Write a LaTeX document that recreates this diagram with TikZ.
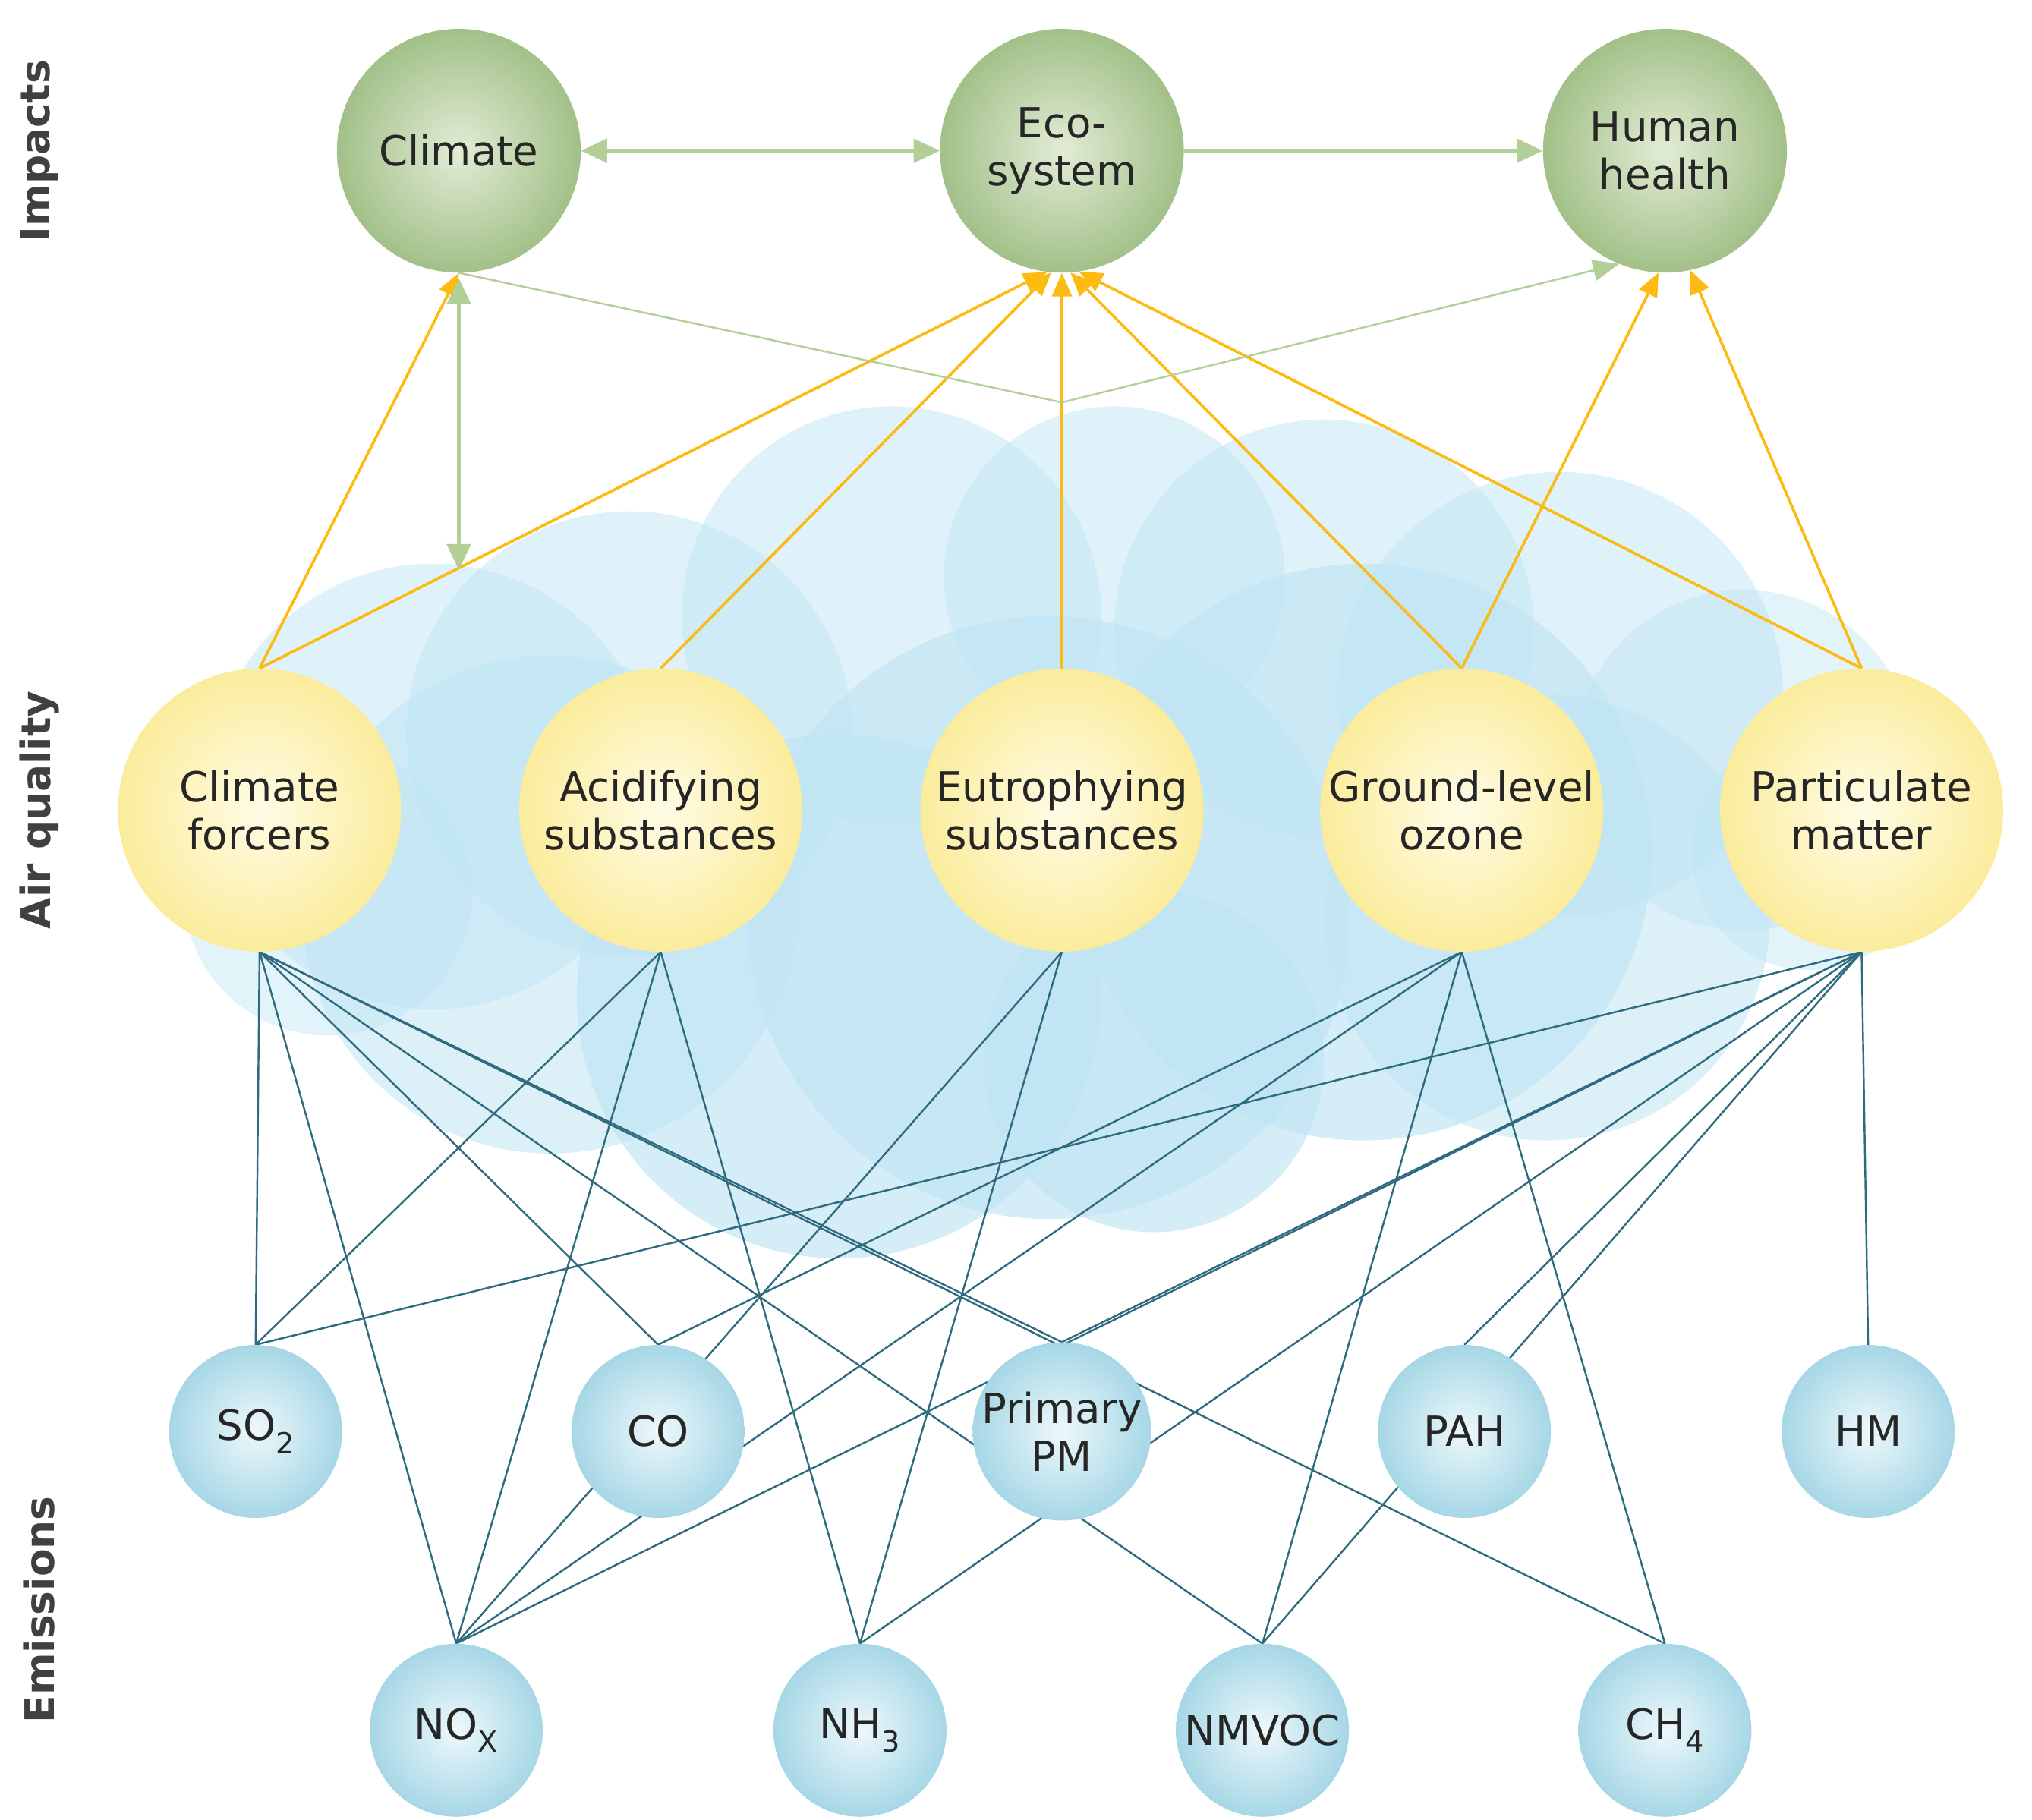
\documentclass[tikz,border=0pt]{standalone}
\usepackage{fontspec}
\setmainfont{DejaVu Sans}
\usetikzlibrary{arrows.meta}
\pgfdeclarelayer{cloud}\pgfdeclarelayer{bg}
\pgfsetlayers{cloud,bg,main}
\definecolor{teal}{HTML}{2F6B7E}
\definecolor{orng}{HTML}{FDBA12}
\definecolor{grn}{HTML}{B3CF98}
\definecolor{cld}{HTML}{BFE4F3}
\definecolor{lbl}{HTML}{404040}
\definecolor{impi}{HTML}{E2ECD6}
\definecolor{impo}{HTML}{A2C088}
\definecolor{aqi}{HTML}{FFFCE6}
\definecolor{aqo}{HTML}{FBEC9C}
\definecolor{emi}{HTML}{EEF8FB}
\definecolor{emo}{HTML}{A6D7E6}
\begin{document}
\begin{tikzpicture}[x=0.05cm,y=-0.05cm,
 txt/.style={font=\fontsize{45}{52}\selectfont,text=black!85,align=center},
 imp/.style={circle,txt,minimum size=9.3cm,inner sep=0pt,inner color=impi,outer color=impo},
 aq/.style={circle,txt,minimum size=10.8cm,inner sep=0pt,inner color=aqi,outer color=aqo},
 em/.style={circle,txt,minimum size=6.6cm,inner sep=0pt,inner color=emi,outer color=emo},
 tl/.style={draw=teal,line width=2pt},
 oa/.style={draw=orng,line width=3pt,-{Triangle[length=0.9cm,width=0.75cm]}},
 ga/.style={draw=grn,line width=4.5pt,{Triangle[length=1cm,width=0.9cm]}-{Triangle[length=1cm,width=0.9cm]}},
 side/.style={rotate=90,font=\fontsize{44}{50}\selectfont\bfseries,text=lbl}]
\useasboundingbox (0,0) rectangle (1550,1388);
\node[side] (l1) at (30,115) {Impacts};
\node[side] (l2) at (30,618) {Air quality};
\node[side] (l3) at (30,1228) {Emissions};
\begin{pgfonlayer}{cloud}
\foreach \x/\y/\r/\o in {330/600/170/0.5, 480/560/170/0.5, 680/470/160/0.5, 850/440/130/0.5, 1010/480/160/0.5, 1190/530/170/0.5, 1330/580/130/0.45, 1380/650/90/0.45, 800/700/230/0.65, 1040/650/220/0.65, 420/690/190/0.55, 640/760/200/0.65, 880/810/130/0.65, 1180/700/170/0.55, 250/680/110/0.45}
  \fill[cld,opacity=\o] (\x,\y) circle (\r);
\end{pgfonlayer}
\node[imp] (cl) at (350,115) {Climate};
\node[imp] (eco) at (810,115) {Eco-\\system};
\node[imp] (hh) at (1270,115) {Human\\health};
\node[aq] (cf) at (198,618) {Climate\\forcers};
\node[aq] (ac) at (504,618) {Acidifying\\substances};
\node[aq] (eu) at (810,618) {Eutrophying\\substances};
\node[aq] (go) at (1115,618) {Ground-level\\ozone};
\node[aq] (pm) at (1420,618) {Particulate\\matter};
\node[em] (so2) at (195,1092) {SO\textsubscript{2}};
\node[em] (co) at (502,1092) {CO};
\node[em] (ppm) at (810,1092) {Primary\\PM};
\node[em] (pah) at (1117,1092) {PAH};
\node[em] (hm) at (1425,1092) {HM};
\node[em] (nox) at (348,1320) {NO\textsubscript{X}};
\node[em] (nh3) at (656,1320) {NH\textsubscript{3}};
\node[em] (nmv) at (963,1320) {NMVOC};
\node[em] (ch4) at (1270,1320) {CH\textsubscript{4}};
\coordinate (cfa) at (350,435);
\coordinate (mid) at (810,307);
\begin{pgfonlayer}{bg}
\foreach \e in {so2,nox,co,nmv,ppm,ch4} \draw[tl] (cf.south) -- (\e.north);
\foreach \e in {so2,nox,nh3} \draw[tl] (ac.south) -- (\e.north);
\foreach \e in {nox,nh3} \draw[tl] (eu.south) -- (\e.north);
\foreach \e in {co,nox,nmv,ch4} \draw[tl] (go.south) -- (\e.north);
\foreach \e in {so2,nox,nh3,nmv,ppm,pah,hm} \draw[tl] (pm.south) -- (\e.north);
\draw[oa] (cf.north) -- (cl.south);
\draw[oa] (cf.north) -- (eco.-97);
\draw[oa] (ac.north) -- (eco.-95);
\draw[oa] (eu.north) -- (eco.south);
\draw[oa] (go.north) -- (eco.-86);
\draw[oa] (pm.north) -- (eco.-82);
\draw[oa] (go.north) -- (hh.-93);
\draw[oa] (pm.north) -- (hh.-78);
\draw[grn,line width=2pt,-{Triangle[length=1cm,width=0.8cm]}] (cl.south) -- (mid) -- (hh.-112);
\end{pgfonlayer}
\draw[ga] (cl) -- (eco);
\draw[ga,{}-{Triangle[length=1cm,width=0.9cm]}] (eco) -- (hh);
\draw[ga] ([yshift=-0.2cm]cl.south) -- (cfa);
\end{tikzpicture}
\end{document}
